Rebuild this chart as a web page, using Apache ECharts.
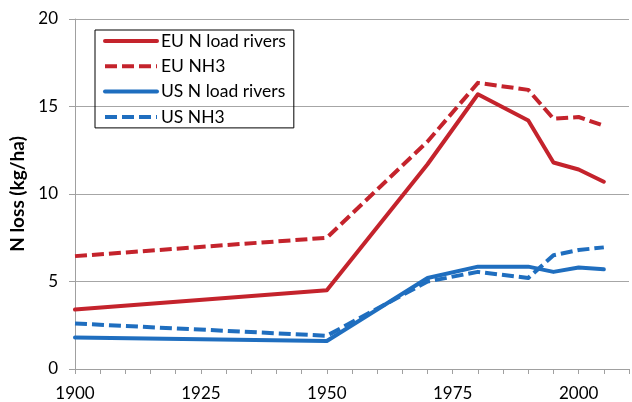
<!DOCTYPE html>
<html lang="en">
<head>
    <meta charset="UTF-8">
    <title>N loss</title>
    <style>
        html, body { margin: 0; padding: 0; background: #fff; }
        #chart { width: 632px; height: 402px; }
    </style>
    <script src="https://cdn.jsdelivr.net/npm/echarts@6/dist/echarts.min.js"></script>
</head>
<body>
<div id="chart"></div>
<script>
    // years of the data points
    var years = [1900, 1950, 1970, 1980, 1990, 1995, 2000, 2005];

    // series values (kg/ha)
    var euRivers = [3.4, 4.5, 11.7, 15.7, 14.2, 11.8, 11.4, 10.7];
    var euNH3 = [6.45, 7.5, 13.0, 16.35, 15.95, 14.3, 14.4, 13.9];
    var usRivers = [1.8, 1.6, 5.2, 5.85, 5.85, 5.55, 5.8, 5.7];
    var usNH3 = [2.6, 1.9, 5.0, 5.55, 5.2, 6.5, 6.8, 6.95];

    var seriesNames = ['EU N load rivers', 'EU NH3', 'US N load rivers', 'US NH3'];
    var red = '#C4232C';
    var blue = '#1F6EBF';
    var font = 'Lato, "Open Sans", sans-serif';

    function pairs(vals) {
        return years.map(function (y, i) { return [y, vals[i]]; });
    }

    function lineSeries(name, vals, color, dashed) {
        return {
            name: name,
            type: 'line',
            data: pairs(vals),
            symbol: 'none',
            animation: false,
            lineStyle: {
                color: color,
                width: 4,
                type: dashed ? [12, 5] : 'solid',
                cap: dashed ? 'butt' : 'round',
                join: 'round'
            },
            itemStyle: { color: color }
        };
    }

    var chart = echarts.init(document.getElementById('chart'));
    chart.setOption({
        animation: false,
        grid: { left: 75, right: -11, top: 19, bottom: 32.5, containLabel: false },
        legend: {
            orient: 'vertical',
            left: 95,
            top: 30,
            data: seriesNames,
            borderColor: '#000',
            borderWidth: 1,
            padding: [2, 8, 2, 8],
            itemWidth: 52,
            itemHeight: 16,
            itemGap: 7.3,
            itemStyle: { opacity: 0 },
            lineStyle: { width: 4 },
            textStyle: { fontFamily: font, fontSize: 17.5, lineHeight: 16, color: '#000', padding: [0, 0, 0, -1] }
        },
        xAxis: {
            type: 'value',
            min: 1900,
            max: 2010,
            interval: 5,
            splitLine: { show: false },
            axisLine: { lineStyle: { color: '#A0A0A0', width: 1 } },
            axisTick: { show: true, length: 5, lineStyle: { color: '#A0A0A0' } },
            axisLabel: {
                margin: 16,
                fontFamily: font,
                fontSize: 17,
                color: '#000',
                formatter: function (v) { return v % 25 === 0 ? String(v) : ''; }
            }
        },
        yAxis: {
            type: 'value',
            min: 0,
            max: 20,
            interval: 5,
            name: 'N loss (kg/ha)',
            nameLocation: 'middle',
            nameGap: 43,
            nameTextStyle: { fontFamily: font, fontSize: 19, fontWeight: 'bold', color: '#000' },
            axisLine: { show: true, lineStyle: { color: '#A0A0A0', width: 1 } },
            axisTick: { show: true, length: 6, inside: false, lineStyle: { color: '#A0A0A0' } },
            splitLine: { show: true, lineStyle: { color: '#A6A6A6', width: 1 } },
            axisLabel: { margin: 17, fontFamily: font, fontSize: 17, color: '#000' }
        },
        series: [
            lineSeries(seriesNames[0], euRivers, red, false),
            lineSeries(seriesNames[1], euNH3, red, true),
            lineSeries(seriesNames[2], usRivers, blue, false),
            lineSeries(seriesNames[3], usNH3, blue, true)
        ]
    });
</script>
</body>
</html>
